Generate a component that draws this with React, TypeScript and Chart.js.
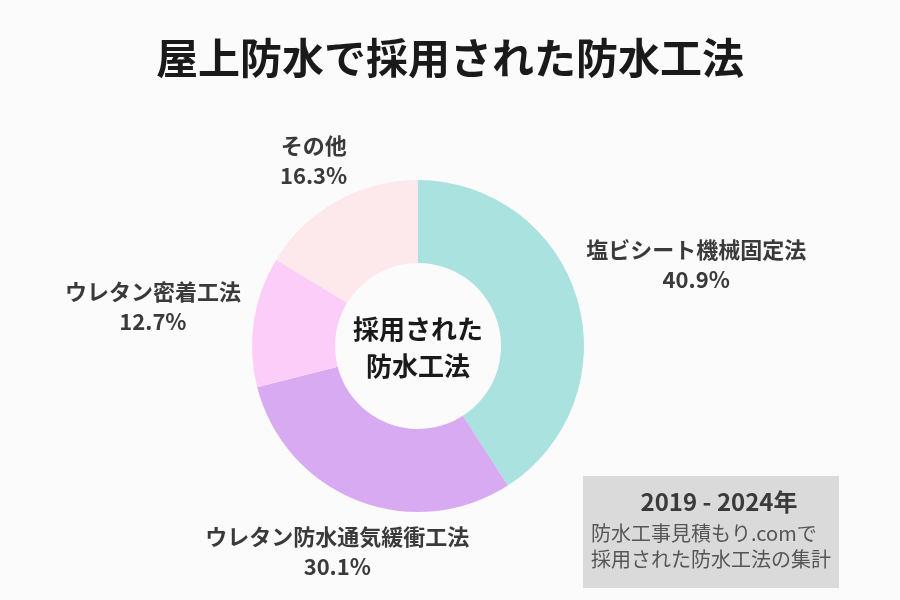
import React, { useEffect, useRef } from "react";
import { Chart, registerables } from "chart.js";

Chart.register(...registerables);

const chartTitle = "屋上防水で採用された防水工法";
const categories = ["塩ビシート機械固定法", "ウレタン防水通気緩衝工法", "ウレタン密着工法", "その他"];
const shares = [40.9, 30.1, 12.7, 16.3];
const sliceColors = ["#a9e2de", "#d8aaf2", "#fdcdf9", "#fde8ec"];
const centerLines = ["採用された", "防水工法"];
const noteTitle = "2019 - 2024年";
const noteLines = ["防水工事見積もり.comで", "採用された防水工法の集計"];

const FONT = '"Noto Sans CJK JP", "Noto Sans", sans-serif';
const BG = "#fbfbfb";

const bgPlugin = {
  id: "bgFill",
  beforeDraw(chart: any) {
    const ctx = chart.ctx;
    ctx.save();
    ctx.fillStyle = BG;
    ctx.fillRect(0, 0, chart.width, chart.height);
    ctx.restore();
  },
};

const textPlugin = {
  id: "texts",
  afterDraw(chart: any, _args: any, opts: any) {
    const ctx = chart.ctx;
    const meta = chart.getDatasetMeta(0);
    ctx.save();
    ctx.textAlign = "center";
    ctx.textBaseline = "middle";

    // Title
    ctx.fillStyle = "#1a1a1a";
    ctx.font = `bold 42px ${FONT}`;
    ctx.fillText(chartTitle, chart.width / 2, 58);

    // Slice labels
    const dists: number[] = opts.labelDistances || [];
    let cx0 = 0, cy0 = 0;
    meta.data.forEach((arc: any, i: number) => {
      const p = arc.getProps(["x", "y", "startAngle", "endAngle", "outerRadius"], true);
      cx0 = p.x; cy0 = p.y;
      const mid = (p.startAngle + p.endAngle) / 2;
      const r = p.outerRadius + (dists[i] ?? 40);
      const lx = p.x + Math.cos(mid) * r;
      const ly = p.y + Math.sin(mid) * r;
      ctx.fillStyle = "#3a3a3a";
      ctx.font = `bold 22px ${FONT}`;
      ctx.fillText(categories[i], lx, ly - 15);
      ctx.fillText(shares[i].toFixed(1) + "%", lx, ly + 15);
    });

    // Center text
    ctx.fillStyle = "#1a1a1a";
    ctx.font = `bold 26px ${FONT}`;
    ctx.fillText(centerLines[0], cx0, cy0 - 17);
    ctx.fillText(centerLines[1], cx0, cy0 + 20);

    // Note box
    ctx.fillStyle = "#dadada";
    ctx.fillRect(583, 476, 256, 112);
    ctx.fillStyle = "#3a3a3a";
    ctx.font = `bold 24px ${FONT}`;
    ctx.fillText(noteTitle, 719, 502);
    ctx.fillStyle = "#555555";
    ctx.font = `20px ${FONT}`;
    ctx.textAlign = "left";
    ctx.fillText(noteLines[0], 591, 533);
    ctx.fillText(noteLines[1], 591, 559);
    ctx.restore();
  },
};

export default function App() {
  const ref = useRef<HTMLCanvasElement | null>(null);
  useEffect(() => {
    document.body.style.margin = "0";
    document.body.style.background = BG;
    const chart = new Chart(ref.current as HTMLCanvasElement, {
      type: "doughnut",
      data: {
        labels: categories,
        datasets: [
          {
            data: shares,
            backgroundColor: sliceColors,
            borderWidth: 0,
            hoverOffset: 0,
          },
        ],
      },
      options: {
        responsive: false,
        animation: false,
        cutout: "50%",
        layout: { padding: { left: 252, right: 316, top: 180, bottom: 88 } },
        plugins: {
          legend: { display: false },
          tooltip: { enabled: false },
          texts: { labelDistances: [124, 55, 102, 47] },
        } as any,
      },
      plugins: [bgPlugin, textPlugin],
    });
    return () => chart.destroy();
  }, []);
  return (
    <div style={{ position: "absolute", left: 0, top: 0, width: 900, height: 600, background: BG }}>
      <canvas ref={ref} width={900} height={600} style={{ display: "block", width: 900, height: 600 }} />
    </div>
  );
}
